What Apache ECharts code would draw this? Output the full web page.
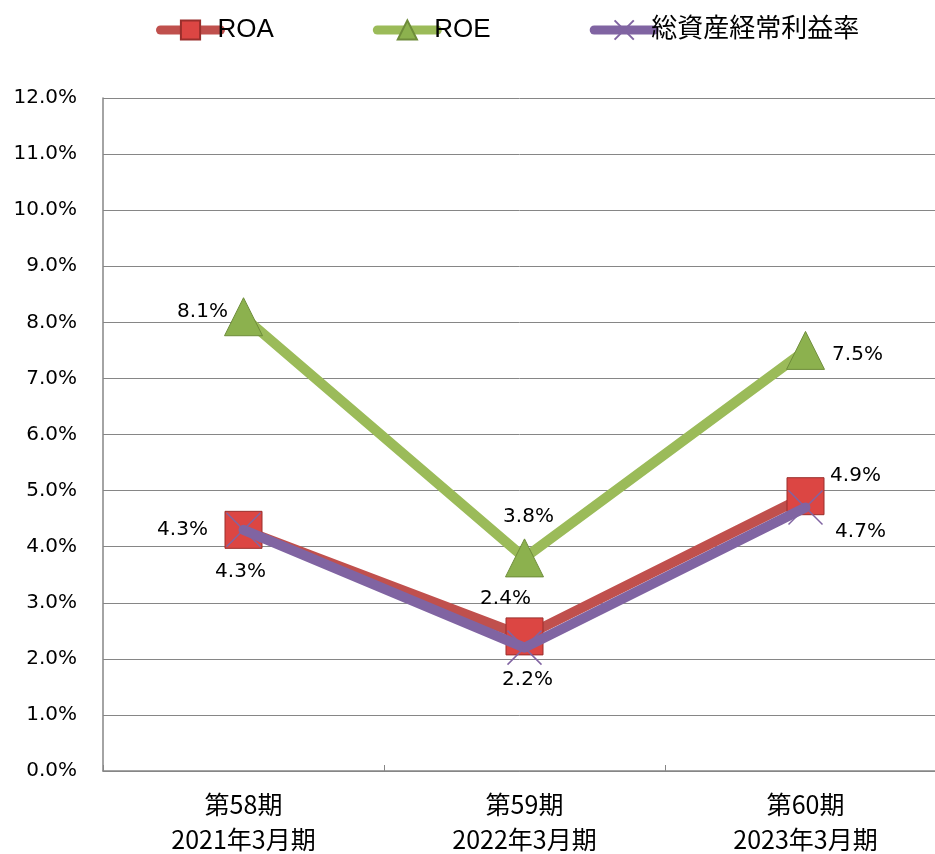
<!DOCTYPE html>
<html>
<head>
<meta charset="utf-8">
<script src="https://cdn.jsdelivr.net/npm/echarts@6/dist/echarts.min.js"></script>
<style>
    html, body { margin: 0; padding: 0; background: #fff; }
    #chart { width: 935px; height: 854px; }
</style>
</head>
<body>
<div id="chart"></div>
<script>
const categories = ['第58期\n2021年3月期', '第59期\n2022年3月期', '第60期\n2023年3月期'];
const roa = [4.3, 2.4, 4.9];
const roe = [8.1, 3.8, 7.5];
const ordinaryRatio = [4.3, 2.2, 4.7];
const yTicks = [0, 1, 2, 3, 4, 5, 6, 7, 8, 9, 10, 11, 12];

// label offsets from each marker centre
const roaOffsets = [[-61, 0], [-19, -38], [50, -20]];
const roeOffsets = [[-41, -5], [4, -41], [52, 4]];
const ordOffsets = [[-3, 42], [3, 32], [55, 24]];

const numFont = '"DejaVu Sans", sans-serif';
const cjkFont = '"Noto Sans CJK JP", sans-serif';

function withLabels(values, offsets) {
    return values.map(function (v, i) {
        return {
            value: v,
            label: { offset: offsets[i] }
        };
    });
}

const labelBase = {
    show: true,
    position: 'inside',
    color: '#000',
    fontSize: 20,
    fontFamily: numFont,
    formatter: function (p) { return p.value.toFixed(1) + '%'; }
};

const chart = echarts.init(document.getElementById('chart'));
chart.setOption({
    animation: false,
    legend: {
        top: 12,
        left: 151,
        itemWidth: 60,
        itemHeight: 24,
        itemGap: 99,
        lineStyle: { width: 9, cap: 'round' },
        textStyle: {
            fontSize: 26,
            color: '#000',
            fontFamily: '"Liberation Sans", "Noto Sans CJK JP", sans-serif',
            padding: [0, 0, 0, -8]
        }
    },
    grid: { left: 103, top: 98, width: 843, height: 673, outerBoundsMode: 'none' },
    xAxis: {
        type: 'category',
        data: categories,
        boundaryGap: true,
        axisLine: { lineStyle: { color: '#868686', width: 1.5 } },
        axisTick: { show: true, inside: true, length: 6, lineStyle: { color: '#868686' } },
        axisLabel: {
            color: '#000',
            fontSize: 25,
            lineHeight: 35,
            margin: 16,
            fontFamily: cjkFont
        }
    },
    yAxis: {
        type: 'value',
        min: yTicks[0],
        max: yTicks[yTicks.length - 1],
        interval: 1,
        axisLine: { show: true, lineStyle: { color: '#868686', width: 1.5 } },
        axisTick: { show: false },
        splitLine: { lineStyle: { color: '#868686', width: 1 } },
        axisLabel: {
            color: '#000',
            fontSize: 20,
            margin: 26,
            fontFamily: numFont,
            formatter: function (v) { return v.toFixed(1) + '%'; }
        }
    },
    series: [
        {
            name: 'ROA',
            type: 'line',
            data: withLabels(roa, roaOffsets),
            symbol: 'rect',
            symbolSize: 37,
            itemStyle: { color: '#DC4643', borderColor: '#9A2F2C', borderWidth: 1 },
            lineStyle: { color: '#C0504D', width: 10, cap: 'round', join: 'round' },
            label: labelBase,
            z: 2
        },
        {
            name: 'ROE',
            type: 'line',
            data: withLabels(roe, roeOffsets),
            symbol: 'triangle',
            symbolSize: 38,
            itemStyle: { color: '#8CB14E', borderColor: '#6E8C3A', borderWidth: 1 },
            lineStyle: { color: '#9BBB59', width: 10, cap: 'round', join: 'round' },
            label: labelBase,
            z: 3
        },
        {
            name: '総資産経常利益率',
            type: 'line',
            data: withLabels(ordinaryRatio, ordOffsets),
            symbol: 'path://M0,0L10,10M10,0L0,10',
            symbolSize: 34,
            itemStyle: { color: '#8064A2', borderColor: '#8064A2', borderWidth: 1.5 },
            lineStyle: { color: '#8064A2', width: 10, cap: 'round', join: 'round' },
            label: labelBase,
            z: 4
        }
    ]
});
</script>
</body>
</html>
